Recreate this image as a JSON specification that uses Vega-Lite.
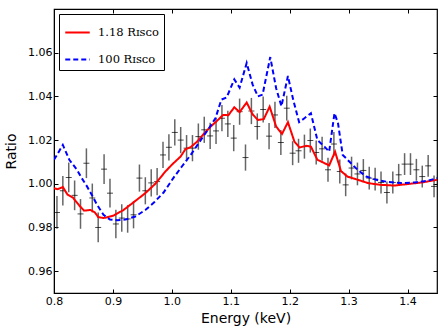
{
  "$schema": "https://vega.github.io/schema/vega-lite/v6.json",
  "width": 383,
  "height": 284,
  "autosize": {"type": "none"},
  "padding": {"left": 54, "top": 9, "right": 10, "bottom": 42},
  "background": "white",
  "config": {
    "view": {"stroke": "black", "strokeWidth": 1.2},
    "axis": {
      "labelFont": "DejaVu Sans",
      "labelFontSize": 11,
      "labelColor": "black",
      "titleFont": "DejaVu Sans",
      "titleFontSize": 14,
      "titleFontWeight": "normal",
      "titleColor": "black",
      "grid": false,
      "domainColor": "black",
      "tickColor": "black",
      "tickSize": -4,
      "labelFlush": false
    },
    "legend": {
      "orient": "top-left",
      "offset": 5,
      "strokeColor": "black",
      "fillColor": "white",
      "padding": 5,
      "labelFont": "DejaVu Serif",
      "labelFontSize": 11.5,
      "labelColor": "black",
      "symbolType": "stroke",
      "symbolSize": 600,
      "symbolStrokeWidth": 2,
      "labelOffset": 7,
      "rowPadding": 8,
      "cornerRadius": 0
    }
  },
  "datasets": {
    "obs": [
      {"E": 0.805, "R": 0.9869, "lo": 0.9794, "hi": 0.9944},
      {"E": 0.815, "R": 0.9968, "lo": 0.9901, "hi": 1.0035},
      {"E": 0.825, "R": 1.0029, "lo": 0.9961, "hi": 1.0097},
      {"E": 0.835, "R": 0.9947, "lo": 0.9879, "hi": 1.0015},
      {"E": 0.845, "R": 0.9862, "lo": 0.9794, "hi": 0.9930},
      {"E": 0.855, "R": 1.0094, "lo": 1.0026, "hi": 1.0162},
      {"E": 0.865, "R": 0.9935, "lo": 0.9869, "hi": 1.0001},
      {"E": 0.875, "R": 0.9800, "lo": 0.9732, "hi": 0.9868},
      {"E": 0.885, "R": 1.0067, "lo": 0.9999, "hi": 1.0135},
      {"E": 0.895, "R": 0.9957, "lo": 0.9891, "hi": 1.0023},
      {"E": 0.905, "R": 0.9816, "lo": 0.9751, "hi": 0.9881},
      {"E": 0.915, "R": 0.9843, "lo": 0.9780, "hi": 0.9906},
      {"E": 0.925, "R": 0.9839, "lo": 0.9776, "hi": 0.9902},
      {"E": 0.935, "R": 0.9858, "lo": 0.9796, "hi": 0.9920},
      {"E": 0.945, "R": 1.0026, "lo": 0.9964, "hi": 1.0088},
      {"E": 0.955, "R": 0.9968, "lo": 0.9906, "hi": 1.0030},
      {"E": 0.965, "R": 1.0004, "lo": 0.9942, "hi": 1.0066},
      {"E": 0.975, "R": 1.0010, "lo": 0.9948, "hi": 1.0072},
      {"E": 0.985, "R": 1.0132, "lo": 1.0072, "hi": 1.0192},
      {"E": 0.995, "R": 1.0167, "lo": 1.0107, "hi": 1.0227},
      {"E": 1.005, "R": 1.0235, "lo": 1.0175, "hi": 1.0295},
      {"E": 1.015, "R": 1.0200, "lo": 1.0140, "hi": 1.0260},
      {"E": 1.025, "R": 1.0163, "lo": 1.0103, "hi": 1.0223},
      {"E": 1.035, "R": 1.0163, "lo": 1.0103, "hi": 1.0223},
      {"E": 1.045, "R": 1.0216, "lo": 1.0156, "hi": 1.0276},
      {"E": 1.055, "R": 1.0247, "lo": 1.0187, "hi": 1.0307},
      {"E": 1.065, "R": 1.0219, "lo": 1.0159, "hi": 1.0279},
      {"E": 1.075, "R": 1.0242, "lo": 1.0182, "hi": 1.0302},
      {"E": 1.085, "R": 1.0300, "lo": 1.0240, "hi": 1.0360},
      {"E": 1.095, "R": 1.0274, "lo": 1.0214, "hi": 1.0334},
      {"E": 1.105, "R": 1.0209, "lo": 1.0149, "hi": 1.0269},
      {"E": 1.115, "R": 1.0330, "lo": 1.0270, "hi": 1.0390},
      {"E": 1.125, "R": 1.0120, "lo": 1.0060, "hi": 1.0180},
      {"E": 1.135, "R": 1.0333, "lo": 1.0273, "hi": 1.0393},
      {"E": 1.145, "R": 1.0262, "lo": 1.0202, "hi": 1.0322},
      {"E": 1.155, "R": 1.0340, "lo": 1.0280, "hi": 1.0400},
      {"E": 1.165, "R": 1.0218, "lo": 1.0158, "hi": 1.0278},
      {"E": 1.175, "R": 1.0315, "lo": 1.0255, "hi": 1.0375},
      {"E": 1.185, "R": 1.0189, "lo": 1.0132, "hi": 1.0246},
      {"E": 1.195, "R": 1.0346, "lo": 1.0289, "hi": 1.0403},
      {"E": 1.205, "R": 1.0140, "lo": 1.0085, "hi": 1.0195},
      {"E": 1.215, "R": 1.0151, "lo": 1.0096, "hi": 1.0206},
      {"E": 1.225, "R": 1.0170, "lo": 1.0115, "hi": 1.0225},
      {"E": 1.235, "R": 1.0198, "lo": 1.0143, "hi": 1.0253},
      {"E": 1.245, "R": 1.0143, "lo": 1.0088, "hi": 1.0198},
      {"E": 1.255, "R": 1.0160, "lo": 1.0105, "hi": 1.0215},
      {"E": 1.265, "R": 1.0064, "lo": 1.0009, "hi": 1.0119},
      {"E": 1.275, "R": 1.0182, "lo": 1.0127, "hi": 1.0237},
      {"E": 1.285, "R": 1.0056, "lo": 1.0001, "hi": 1.0111},
      {"E": 1.295, "R": 0.9995, "lo": 0.9943, "hi": 1.0047},
      {"E": 1.305, "R": 1.0072, "lo": 1.0020, "hi": 1.0124},
      {"E": 1.315, "R": 1.0045, "lo": 0.9993, "hi": 1.0097},
      {"E": 1.325, "R": 1.0061, "lo": 1.0009, "hi": 1.0113},
      {"E": 1.335, "R": 1.0026, "lo": 0.9974, "hi": 1.0078},
      {"E": 1.345, "R": 1.0021, "lo": 0.9969, "hi": 1.0073},
      {"E": 1.355, "R": 1.0006, "lo": 0.9956, "hi": 1.0056},
      {"E": 1.365, "R": 0.9960, "lo": 0.9910, "hi": 1.0010},
      {"E": 1.375, "R": 1.0006, "lo": 0.9956, "hi": 1.0056},
      {"E": 1.385, "R": 1.0041, "lo": 0.9991, "hi": 1.0091},
      {"E": 1.395, "R": 1.0090, "lo": 1.0040, "hi": 1.0140},
      {"E": 1.405, "R": 1.0090, "lo": 1.0040, "hi": 1.0140},
      {"E": 1.415, "R": 1.0064, "lo": 1.0014, "hi": 1.0114},
      {"E": 1.425, "R": 1.0033, "lo": 0.9983, "hi": 1.0083},
      {"E": 1.435, "R": 1.0082, "lo": 1.0032, "hi": 1.0132},
      {"E": 1.445, "R": 0.9988, "lo": 0.9938, "hi": 1.0038}
    ],
    "models": [
      {"model": "1.18 Rɪꜱᴄᴏ", "E": 0.800, "R": 0.9980},
      {"model": "1.18 Rɪꜱᴄᴏ", "E": 0.806, "R": 0.9975},
      {"model": "1.18 Rɪꜱᴄᴏ", "E": 0.815, "R": 0.9985},
      {"model": "1.18 Rɪꜱᴄᴏ", "E": 0.823, "R": 0.9950},
      {"model": "1.18 Rɪꜱᴄᴏ", "E": 0.832, "R": 0.9937},
      {"model": "1.18 Rɪꜱᴄᴏ", "E": 0.843, "R": 0.9900},
      {"model": "1.18 Rɪꜱᴄᴏ", "E": 0.851, "R": 0.9877},
      {"model": "1.18 Rɪꜱᴄᴏ", "E": 0.862, "R": 0.9880},
      {"model": "1.18 Rɪꜱᴄᴏ", "E": 0.869, "R": 0.9870},
      {"model": "1.18 Rɪꜱᴄᴏ", "E": 0.875, "R": 0.9848},
      {"model": "1.18 Rɪꜱᴄᴏ", "E": 0.884, "R": 0.9843},
      {"model": "1.18 Rɪꜱᴄᴏ", "E": 0.901, "R": 0.9854},
      {"model": "1.18 Rɪꜱᴄᴏ", "E": 0.918, "R": 0.9880},
      {"model": "1.18 Rɪꜱᴄᴏ", "E": 0.935, "R": 0.9915},
      {"model": "1.18 Rɪꜱᴄᴏ", "E": 0.955, "R": 0.9957},
      {"model": "1.18 Rɪꜱᴄᴏ", "E": 0.972, "R": 1.0000},
      {"model": "1.18 Rɪꜱᴄᴏ", "E": 0.989, "R": 1.0056},
      {"model": "1.18 Rɪꜱᴄᴏ", "E": 1.000, "R": 1.0087},
      {"model": "1.18 Rɪꜱᴄᴏ", "E": 1.015, "R": 1.0125},
      {"model": "1.18 Rɪꜱᴄᴏ", "E": 1.023, "R": 1.0158},
      {"model": "1.18 Rɪꜱᴄᴏ", "E": 1.032, "R": 1.0168},
      {"model": "1.18 Rɪꜱᴄᴏ", "E": 1.043, "R": 1.0193},
      {"model": "1.18 Rɪꜱᴄᴏ", "E": 1.054, "R": 1.0228},
      {"model": "1.18 Rɪꜱᴄᴏ", "E": 1.066, "R": 1.0262},
      {"model": "1.18 Rɪꜱᴄᴏ", "E": 1.077, "R": 1.0289},
      {"model": "1.18 Rɪꜱᴄᴏ", "E": 1.087, "R": 1.0315},
      {"model": "1.18 Rɪꜱᴄᴏ", "E": 1.096, "R": 1.0314},
      {"model": "1.18 Rɪꜱᴄᴏ", "E": 1.106, "R": 1.0350},
      {"model": "1.18 Rɪꜱᴄᴏ", "E": 1.115, "R": 1.0328},
      {"model": "1.18 Rɪꜱᴄᴏ", "E": 1.127, "R": 1.0372},
      {"model": "1.18 Rɪꜱᴄᴏ", "E": 1.137, "R": 1.0318},
      {"model": "1.18 Rɪꜱᴄᴏ", "E": 1.146, "R": 1.0292},
      {"model": "1.18 Rɪꜱᴄᴏ", "E": 1.156, "R": 1.0296},
      {"model": "1.18 Rɪꜱᴄᴏ", "E": 1.166, "R": 1.0353},
      {"model": "1.18 Rɪꜱᴄᴏ", "E": 1.177, "R": 1.0262},
      {"model": "1.18 Rɪꜱᴄᴏ", "E": 1.187, "R": 1.0228},
      {"model": "1.18 Rɪꜱᴄᴏ", "E": 1.197, "R": 1.0282},
      {"model": "1.18 Rɪꜱᴄᴏ", "E": 1.208, "R": 1.0193},
      {"model": "1.18 Rɪꜱᴄᴏ", "E": 1.217, "R": 1.0166},
      {"model": "1.18 Rɪꜱᴄᴏ", "E": 1.228, "R": 1.0174},
      {"model": "1.18 Rɪꜱᴄᴏ", "E": 1.236, "R": 1.0170},
      {"model": "1.18 Rɪꜱᴄᴏ", "E": 1.247, "R": 1.0110},
      {"model": "1.18 Rɪꜱᴄᴏ", "E": 1.267, "R": 1.0084},
      {"model": "1.18 Rɪꜱᴄᴏ", "E": 1.277, "R": 1.0147},
      {"model": "1.18 Rɪꜱᴄᴏ", "E": 1.287, "R": 1.0058},
      {"model": "1.18 Rɪꜱᴄᴏ", "E": 1.298, "R": 1.0033},
      {"model": "1.18 Rɪꜱᴄᴏ", "E": 1.316, "R": 1.0018},
      {"model": "1.18 Rɪꜱᴄᴏ", "E": 1.333, "R": 1.0003},
      {"model": "1.18 Rɪꜱᴄᴏ", "E": 1.355, "R": 0.9995},
      {"model": "1.18 Rɪꜱᴄᴏ", "E": 1.378, "R": 0.9992},
      {"model": "1.18 Rɪꜱᴄᴏ", "E": 1.401, "R": 0.9999},
      {"model": "1.18 Rɪꜱᴄᴏ", "E": 1.424, "R": 1.0006},
      {"model": "1.18 Rɪꜱᴄᴏ", "E": 1.450, "R": 1.0018},
      {"model": "100 Rɪꜱᴄᴏ", "E": 0.800, "R": 1.0110},
      {"model": "100 Rɪꜱᴄᴏ", "E": 0.805, "R": 1.0132},
      {"model": "100 Rɪꜱᴄᴏ", "E": 0.815, "R": 1.0178},
      {"model": "100 Rɪꜱᴄᴏ", "E": 0.826, "R": 1.0110},
      {"model": "100 Rɪꜱᴄᴏ", "E": 0.839, "R": 1.0064},
      {"model": "100 Rɪꜱᴄᴏ", "E": 0.847, "R": 1.0026},
      {"model": "100 Rɪꜱᴄᴏ", "E": 0.856, "R": 0.9988},
      {"model": "100 Rɪꜱᴄᴏ", "E": 0.864, "R": 0.9950},
      {"model": "100 Rɪꜱᴄᴏ", "E": 0.873, "R": 0.9904},
      {"model": "100 Rɪꜱᴄᴏ", "E": 0.884, "R": 0.9858},
      {"model": "100 Rɪꜱᴄᴏ", "E": 0.895, "R": 0.9836},
      {"model": "100 Rɪꜱᴄᴏ", "E": 0.907, "R": 0.9833},
      {"model": "100 Rɪꜱᴄᴏ", "E": 0.921, "R": 0.9836},
      {"model": "100 Rɪꜱᴄᴏ", "E": 0.938, "R": 0.9850},
      {"model": "100 Rɪꜱᴄᴏ", "E": 0.955, "R": 0.9880},
      {"model": "100 Rɪꜱᴄᴏ", "E": 0.970, "R": 0.9915},
      {"model": "100 Rɪꜱᴄᴏ", "E": 0.986, "R": 0.9960},
      {"model": "100 Rɪꜱᴄᴏ", "E": 1.003, "R": 1.0028},
      {"model": "100 Rɪꜱᴄᴏ", "E": 1.017, "R": 1.0079},
      {"model": "100 Rɪꜱᴄᴏ", "E": 1.032, "R": 1.0132},
      {"model": "100 Rɪꜱᴄᴏ", "E": 1.049, "R": 1.0200},
      {"model": "100 Rɪꜱᴄᴏ", "E": 1.063, "R": 1.0254},
      {"model": "100 Rɪꜱᴄᴏ", "E": 1.074, "R": 1.0300},
      {"model": "100 Rɪꜱᴄᴏ", "E": 1.084, "R": 1.0385},
      {"model": "100 Rɪꜱᴄᴏ", "E": 1.093, "R": 1.0395},
      {"model": "100 Rɪꜱᴄᴏ", "E": 1.106, "R": 1.0478},
      {"model": "100 Rɪꜱᴄᴏ", "E": 1.115, "R": 1.0440},
      {"model": "100 Rɪꜱᴄᴏ", "E": 1.127, "R": 1.0553},
      {"model": "100 Rɪꜱᴄᴏ", "E": 1.137, "R": 1.0455},
      {"model": "100 Rɪꜱᴄᴏ", "E": 1.146, "R": 1.0400},
      {"model": "100 Rɪꜱᴄᴏ", "E": 1.154, "R": 1.0408},
      {"model": "100 Rɪꜱᴄᴏ", "E": 1.167, "R": 1.0580},
      {"model": "100 Rɪꜱᴄᴏ", "E": 1.177, "R": 1.0437},
      {"model": "100 Rɪꜱᴄᴏ", "E": 1.186, "R": 1.0355},
      {"model": "100 Rɪꜱᴄᴏ", "E": 1.197, "R": 1.0493},
      {"model": "100 Rɪꜱᴄᴏ", "E": 1.206, "R": 1.0384},
      {"model": "100 Rɪꜱᴄᴏ", "E": 1.216, "R": 1.0282},
      {"model": "100 Rɪꜱᴄᴏ", "E": 1.225, "R": 1.0300},
      {"model": "100 Rɪꜱᴄᴏ", "E": 1.236, "R": 1.0323},
      {"model": "100 Rɪꜱᴄᴏ", "E": 1.247, "R": 1.0200},
      {"model": "100 Rɪꜱᴄᴏ", "E": 1.259, "R": 1.0170},
      {"model": "100 Rɪꜱᴄᴏ", "E": 1.267, "R": 1.0147},
      {"model": "100 Rɪꜱᴄᴏ", "E": 1.276, "R": 1.0323},
      {"model": "100 Rɪꜱᴄᴏ", "E": 1.282, "R": 1.0277},
      {"model": "100 Rɪꜱᴄᴏ", "E": 1.290, "R": 1.0132},
      {"model": "100 Rɪꜱᴄᴏ", "E": 1.304, "R": 1.0094},
      {"model": "100 Rɪꜱᴄᴏ", "E": 1.316, "R": 1.0062},
      {"model": "100 Rɪꜱᴄᴏ", "E": 1.330, "R": 1.0033},
      {"model": "100 Rɪꜱᴄᴏ", "E": 1.347, "R": 1.0018},
      {"model": "100 Rɪꜱᴄᴏ", "E": 1.367, "R": 1.0008},
      {"model": "100 Rɪꜱᴄᴏ", "E": 1.390, "R": 1.0003},
      {"model": "100 Rɪꜱᴄᴏ", "E": 1.412, "R": 1.0006},
      {"model": "100 Rɪꜱᴄᴏ", "E": 1.435, "R": 1.0014},
      {"model": "100 Rɪꜱᴄᴏ", "E": 1.450, "R": 1.0026}
    ]
  },
  "resolve": {"axis": {"x": "independent", "y": "independent"}},
  "layer": [
    {
      "mark": {"type": "rule", "color": "#aaaaaa", "strokeDash": [4, 3], "strokeWidth": 1},
      "encoding": {
        "y": {"datum": 1, "type": "quantitative", "scale": {"domain": [0.95, 1.08], "nice": false, "zero": false},
              "axis": {"orient": "left", "title": "Ratio", "values": [0.96, 0.98, 1.0, 1.02, 1.04, 1.06], "format": ".2f", "labelPadding": 6, "titlePadding": 9}}
      }
    },
    {
      "data": {"name": "obs"},
      "mark": {"type": "rule", "color": "#333333", "opacity": 0.75, "strokeWidth": 1.5},
      "encoding": {
        "x": {"field": "E", "type": "quantitative", "scale": {"domain": [0.8, 1.45], "nice": false, "zero": false},
              "axis": {"orient": "bottom", "title": "Energy (keV)", "values": [0.8, 0.9, 1.0, 1.1, 1.2, 1.3, 1.4], "format": ".1f", "labelPadding": 6, "titlePadding": 5}},
        "y": {"field": "lo", "type": "quantitative", "axis": null},
        "y2": {"field": "hi"}
      }
    },
    {
      "data": {"name": "obs"},
      "mark": {"type": "tick", "orient": "horizontal", "color": "black", "thickness": 1, "size": 6},
      "encoding": {
        "x": {"field": "E", "type": "quantitative", "axis": null},
        "y": {"field": "R", "type": "quantitative", "axis": null}
      }
    },
    {
      "data": {"name": "models"},
      "mark": {"type": "line", "strokeWidth": 2, "clip": true},
      "encoding": {
        "x": {"field": "E", "type": "quantitative", "axis": null},
        "y": {"field": "R", "type": "quantitative", "axis": null},
        "color": {"field": "model", "type": "nominal", "title": null,
                  "scale": {"domain": ["1.18 Rɪꜱᴄᴏ", "100 Rɪꜱᴄᴏ"], "range": ["#ff0000", "#0000ff"]}},
        "strokeDash": {"field": "model", "type": "nominal", "title": null,
                  "scale": {"domain": ["1.18 Rɪꜱᴄᴏ", "100 Rɪꜱᴄᴏ"], "range": [[1, 0], [5, 3]]}}
      }
    },
    {
      "data": {"name": "obs"},
      "mark": {"type": "point", "opacity": 0},
      "encoding": {
        "x": {"field": "E", "type": "quantitative",
              "axis": {"orient": "top", "labels": false, "title": null, "values": [0.8, 0.9, 1.0, 1.1, 1.2, 1.3, 1.4], "domain": false}},
        "y": {"field": "R", "type": "quantitative",
              "axis": {"orient": "right", "labels": false, "title": null, "values": [0.96, 0.98, 1.0, 1.02, 1.04, 1.06], "domain": false}}
      }
    }
  ]
}
